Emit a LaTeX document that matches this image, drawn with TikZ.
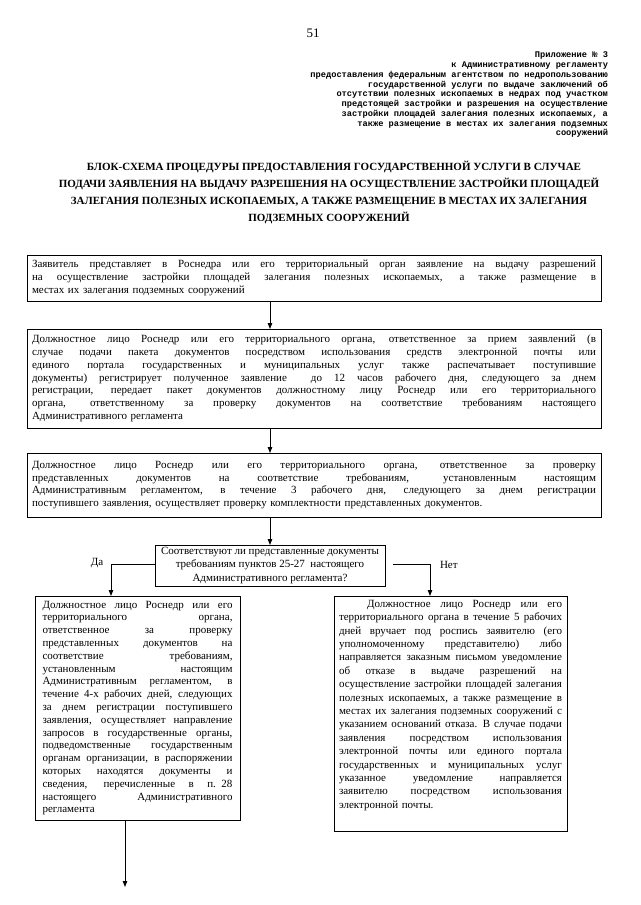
\documentclass[tikz,border=0pt]{standalone}
\usepackage{fontspec}
\setmainfont{Liberation Serif}
\newfontfamily\hdrfont{Liberation Mono}
\usetikzlibrary{arrows.meta}
\newcommand{\LW}{100pt}
\newcommand{\JL}[1]{\leavevmode\hbox to \LW{\spaceskip=.25em plus 1fil\relax #1}\\}
\begin{document}
\begin{tikzpicture}[x=1pt,y=-1pt,
  every node/.style={inner sep=0pt, outer sep=0pt},
  box/.style={draw, line width=1pt, anchor=north west, inner xsep=5pt, inner ysep=3pt, align=left,
              font=\fontsize{11}{12.8}\selectfont},
  dbox/.style={draw, line width=1pt, anchor=north west, align=center,
              font=\fontsize{11}{13.5}\selectfont},
  arr/.style={line width=1pt, -{Triangle[length=6pt,width=4.5pt]}},
  lbl/.style={font=\fontsize{11}{13}\selectfont}]
\useasboundingbox (0,0) rectangle (640,905);
\fill[white] (0,0) rectangle (640,905);

\node[font=\fontsize{13}{15}\selectfont] (pg) at (313,33) {51};

\node[anchor=north east, align=right, font=\hdrfont\bfseries\fontsize{8.7}{9.75}\selectfont] (hdr) at (608,52)
{Приложение № 3\\
к Административному регламенту\\
предоставления федеральным агентством по недропользованию\\
государственной услуги по выдаче заключений об\\
отсутствии полезных ископаемых в недрах под участком\\
предстоящей застройки и разрешения на осуществление\\
застройки площадей залегания полезных ископаемых, а\\
также размещение в местах их залегания подземных\\
сооружений};

\node[anchor=north, align=center, font=\bfseries\fontsize{11}{17.2}\selectfont] (title) at (329,161)
{\hspace*{10pt}БЛОК-СХЕМА ПРОЦЕДУРЫ ПРЕДОСТАВЛЕНИЯ ГОСУДАРСТВЕННОЙ УСЛУГИ В СЛУЧАЕ\\
ПОДАЧИ ЗАЯВЛЕНИЯ НА ВЫДАЧУ РАЗРЕШЕНИЯ НА ОСУЩЕСТВЛЕНИЕ ЗАСТРОЙКИ ПЛОЩАДЕЙ\\
ЗАЛЕГАНИЯ ПОЛЕЗНЫХ ИСКОПАЕМЫХ, А ТАКЖЕ РАЗМЕЩЕНИЕ В МЕСТАХ ИХ ЗАЛЕГАНИЯ\\
ПОДЗЕМНЫХ СООРУЖЕНИЙ};

\node[box, text width=564pt, minimum height=46pt] (b1) at (27,255)
{\renewcommand{\LW}{564pt}%
\JL{Заявитель представляет в Роснедра или его территориальный орган заявление на выдачу разрешений}
\JL{на осуществление застройки площадей залегания полезных ископаемых, а также размещение в}
местах их залегания подземных сооружений};

\node[box, text width=564pt, minimum height=99pt] (b2) at (27,329)
{\renewcommand{\LW}{564pt}%
\JL{Должностное лицо Роснедр или его территориального органа, ответственное за прием заявлений (в}
\JL{случае подачи пакета документов посредством использования средств электронной почты или}
\JL{единого портала государственных и муниципальных услуг также распечатывает поступившие}
\JL{документы) регистрирует полученное заявление \ до 12 часов рабочего дня, следующего за днем}
\JL{регистрации, передает пакет документов должностному лицу Роснедр или его территориального}
\JL{органа, ответственному за проверку документов на соответствие требованиям настоящего}
Административного регламента};

\node[box, text width=564pt, minimum height=64pt] (b3) at (27,453)
{\renewcommand{\LW}{564pt}%
\JL{Должностное лицо Роснедр или его территориального органа, ответственное за проверку}
\JL{представленных документов на соответствие требованиям, установленным настоящим}
\JL{Административным регламентом, в течение 3 рабочего дня, следующего за днем регистрации}
поступившего заявления, осуществляет проверку комплектности представленных документов.};

\node[dbox, minimum width=230pt, minimum height=41pt] (dec) at (155,545)
{Соответствуют ли представленные документы\\
требованиям пунктов 25-27 \ настоящего\\
Административного регламента?};

\node[box, text width=190pt, inner xsep=7.5pt, minimum height=224pt] (lb) at (35,596)
{\renewcommand{\LW}{190pt}%
\JL{Должностное лицо Роснедр или его}
\JL{территориального органа,}
\JL{ответственное за проверку}
\JL{представленных документов на}
\JL{соответствие требованиям,}
\JL{установленным настоящим}
\JL{Административным регламентом, в}
\JL{течение 4-х рабочих дней, следующих}
\JL{за днем регистрации поступившего}
\JL{заявления, осуществляет направление}
\JL{запросов в государственные органы,}
\JL{подведомственные государственным}
\JL{органам организации, в распоряжении}
\JL{которых находятся документы и}
\JL{сведения, перечисленные в п. 28}
\JL{настоящего Административного}
регламента};

\node[box, text width=223pt, inner xsep=5pt, inner ysep=4pt, font=\fontsize{11}{13.4}\selectfont] (rb) at (334,596)
{\renewcommand{\LW}{223pt}%
\JL{\hspace*{28pt}Должностное лицо Роснедр или его}
\JL{территориального органа в течение 5 рабочих}
\JL{дней вручает под роспись заявителю (его}
\JL{уполномоченному представителю) либо}
\JL{направляется заказным письмом уведомление}
\JL{об отказе в выдаче разрешений на}
\JL{осуществление застройки площадей залегания}
\JL{полезных ископаемых, а также размещение в}
\JL{местах их залегания подземных сооружений с}
\JL{указанием оснований отказа. В случае подачи}
\JL{заявления посредством использования}
\JL{электронной почты или единого портала}
\JL{государственных и муниципальных услуг}
\JL{указанное уведомление направляется}
\JL{заявителю посредством использования}
электронной почты.\rule[-19pt]{0pt}{19pt}};

\coordinate (yes1) at (111,564);
\coordinate (no1) at (430,564);
\coordinate (fin) at (125,887);

\draw[arr] (b1.south -| dec.north) -- (b2.north -| dec.north);
\draw[arr] (b2.south -| dec.north) -- (b3.north -| dec.north);
\draw[arr] (b3.south -| dec.north) -- (dec.north);
\draw[arr] (dec.west |- yes1) -- (yes1) -- (yes1 |- lb.north);
\draw[arr] ([xshift=8pt]dec.east |- no1) -- (no1) -- (no1 |- rb.north);
\draw[arr] (lb.south -| fin) -- (fin);

\node[lbl] (yes) at (97,563) {Да};
\node[lbl, anchor=west] (no) at (440,565) {Нет};
\end{tikzpicture}
\end{document}
